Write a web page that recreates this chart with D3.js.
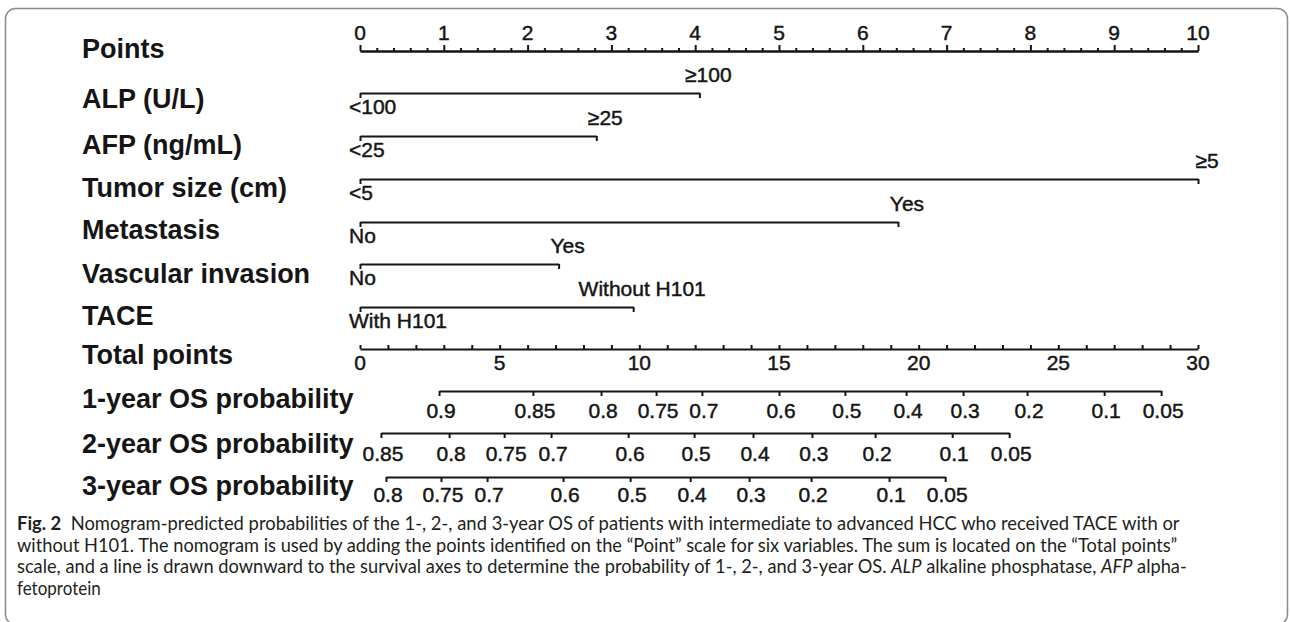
<!DOCTYPE html>
<html>
<head>
<meta charset="utf-8">
<script src="https://cdn.jsdelivr.net/npm/d3@7"></script>
<style>
  body { margin: 0; background: #fff; }
  svg { display: block; }
</style>
</head>
<body>
<div id="chart"></div>
<script>
// nomogram values
const rowNames = ["Points", "ALP (U/L)", "AFP (ng/mL)", "Tumor size (cm)", "Metastasis",
  "Vascular invasion", "TACE", "Total points", "1-year OS probability",
  "2-year OS probability", "3-year OS probability"];

const pointTicks = [0, 1, 2, 3, 4, 5, 6, 7, 8, 9, 10];
const totalTicks = [0, 5, 10, 15, 20, 25, 30];

const lowLabels = ["<100", "<25", "<5", "No", "No", "With H101"];
const highLabels = ["≥100", "≥25", "≥5", "Yes", "Yes", "Without H101"];
const highPoints = [4.05, 2.82, 10, 6.42, 2.37, 3.26];

const os1Labels = ["0.9", "0.85", "0.8", "0.75", "0.7", "0.6", "0.5", "0.4", "0.3", "0.2", "0.1", "0.05"];
const os1Points = [2.83, 6.19, 8.63, 10.6, 12.24, 15.0, 17.36, 19.55, 21.59, 23.88, 26.64, 28.68];
const os2Labels = ["0.85", "0.8", "0.75", "0.7", "0.6", "0.5", "0.4", "0.3", "0.2", "0.1", "0.05"];
const os2Points = [0.75, 3.19, 5.16, 6.84, 9.6, 11.96, 14.07, 16.18, 18.44, 21.2, 23.24];
const os3Labels = ["0.8", "0.75", "0.7", "0.6", "0.5", "0.4", "0.3", "0.2", "0.1", "0.05"];
const os3Points = [0.93, 2.9, 4.55, 7.27, 9.67, 11.82, 13.93, 16.15, 18.94, 20.95];

const width = 1290;
const height = 622;
const ink = "#151515";
const font = "'Liberation Sans', Arial, sans-serif";

// y of each axis line, and of each row name baseline
const lineY = [51, 93, 136, 179, 222, 264, 307, 349, 391, 433, 477];
const nameY = [58, 108, 154, 197, 239, 283, 325, 364, 408, 453, 495];

const svg = d3.select('#chart')
  .append('svg')
  .attr('width', width)
  .attr('height', height);

// frame
svg.append('rect')
  .attr('x', 5.5).attr('y', 8.5)
  .attr('width', 1282).attr('height', 616)
  .attr('rx', 10)
  .attr('fill', 'none')
  .attr('stroke', '#8c8c8c')
  .attr('stroke-width', 1.5);

const xPoints = d3.scaleLinear().domain([0, 10]).range([360, 1198]);
const xTotal = d3.scaleLinear().domain([0, 30]).range([360, 1198]);

// row names
svg.selectAll('.rowname')
  .data(rowNames)
  .enter()
  .append('text')
  .attr('class', 'rowname')
  .attr('x', 82)
  .attr('y', (d, i) => nameY[i])
  .text(d => d)
  .attr('font-family', font)
  .attr('font-weight', 'bold')
  .attr('font-size', '27px')
  .attr('fill', ink);

function styleAxis(g) {
  g.selectAll('path, line').attr('stroke', ink).attr('stroke-width', 2);
  g.select('.domain').attr('stroke-width', 2.2);
}

// small labels are a little heavier in the figure
function label(sel) {
  sel.attr('font-family', font)
    .attr('font-size', '21px')
    .attr('fill', ink)
    .attr('stroke', ink)
    .attr('stroke-width', 0.45);
}

// Points axis: minor ticks every 0.2, labelled majors
const pointMinor = d3.range(0, 10.001, 0.2).filter(v => Math.abs(v - Math.round(v)) > 1e-6);
svg.append('g')
  .attr('transform', `translate(0,${lineY[0]})`)
  .call(d3.axisTop(xPoints).tickValues(pointMinor).tickFormat('').tickSize(3).tickSizeOuter(0))
  .call(styleAxis);
svg.append('g')
  .attr('transform', `translate(0,${lineY[0]})`)
  .call(d3.axisTop(xPoints).tickValues(pointTicks).tickFormat('').tickSize(6).tickSizeOuter(0))
  .call(styleAxis);
svg.selectAll('.ptlab')
  .data(pointTicks)
  .enter()
  .append('text')
  .attr('x', d => xPoints(d))
  .attr('y', 40)
  .attr('text-anchor', 'middle')
  .text(d => d)
  .call(label);

// variable axes
highPoints.forEach(function(p, i) {
  const y = lineY[i + 1];
  const sc = xPoints.copy().domain([0, p]).range([xPoints(0), xPoints(p)]);
  svg.append('g')
    .attr('transform', `translate(0,${y})`)
    .call(d3.axisBottom(sc).tickValues([0, p]).tickFormat('').tickSize(5).tickSizeOuter(0))
    .call(styleAxis);
  svg.append('text')
    .attr('x', xPoints(0) - 11)
    .attr('y', y + 21)
    .text(lowLabels[i])
    .call(label);
  svg.append('text')
    .attr('x', xPoints(p) + 9)
    .attr('y', y - 11)
    .attr('text-anchor', 'middle')
    .text(highLabels[i])
    .call(label);
});

// Total points axis: ticks up, labels below
svg.append('g')
  .attr('transform', `translate(0,${lineY[7]})`)
  .call(d3.axisTop(xTotal).tickValues(d3.range(0, 31, 1)).tickFormat('').tickSize(4).tickSizeOuter(0))
  .call(styleAxis);
svg.selectAll('.totlab')
  .data(totalTicks)
  .enter()
  .append('text')
  .attr('x', d => xTotal(d))
  .attr('y', 370)
  .attr('text-anchor', 'middle')
  .text(d => d)
  .call(label);

// survival probability axes
const osAxes = [
  { pts: os1Points, labels: os1Labels, y: lineY[8], ty: 418 },
  { pts: os2Points, labels: os2Labels, y: lineY[9], ty: 461 },
  { pts: os3Points, labels: os3Labels, y: lineY[10], ty: 502 }
];
osAxes.forEach(function(a) {
  const ext = d3.extent(a.pts);
  const sc = xTotal.copy().domain(ext).range(ext.map(xTotal));
  svg.append('g')
    .attr('transform', `translate(0,${a.y})`)
    .call(d3.axisBottom(sc).tickValues(a.pts).tickFormat('').tickSize(5).tickSizeOuter(0))
    .call(styleAxis);
  svg.append('g')
    .selectAll('text')
    .data(a.pts)
    .enter()
    .append('text')
    .attr('x', d => xTotal(d) + 2)
    .attr('y', a.ty)
    .attr('text-anchor', 'middle')
    .text((d, i) => a.labels[i])
    .call(label);
});

// caption
const capFont = "Lato, 'Open Sans', sans-serif";
const capLines = [
  { y: 530, w: 1163, parts: [["Fig. 2", "bold"], ["  Nomogram-predicted probabilities of the 1-, 2-, and 3-year OS of patients with intermediate to advanced HCC who received TACE with or", ""]] },
  { y: 552, w: 1161, parts: [["without H101. The nomogram is used by adding the points identified on the “Point” scale for six variables. The sum is located on the “Total points”", ""]] },
  { y: 573, w: 1171, parts: [["scale, and a line is drawn downward to the survival axes to determine the probability of 1-, 2-, and 3-year OS. ", ""], ["ALP", "italic"], [" alkaline phosphatase, ", ""], ["AFP", "italic"], [" alpha-", ""]] },
  { y: 595, w: 0, parts: [["fetoprotein", ""]] }
];
capLines.forEach(function(l) {
  const g = svg.append('g');
  const t = g.append('text')
    .attr('x', 0).attr('y', 0)
    .attr('font-family', capFont)
    .attr('font-size', '18.5px')
    .attr('fill', '#231f20')
    .style('white-space', 'pre');
  l.parts.forEach(function(p) {
    const s = t.append('tspan').text(p[0]);
    if (p[1] === 'bold') s.attr('font-weight', 'bold');
    if (p[1] === 'italic') s.attr('font-style', 'italic');
  });
  const len = t.node().getComputedTextLength();
  const k = l.w ? l.w / len : 0.92;
  g.attr('transform', `translate(17,${l.y}) scale(${k},1)`);
});
</script>
</body>
</html>
